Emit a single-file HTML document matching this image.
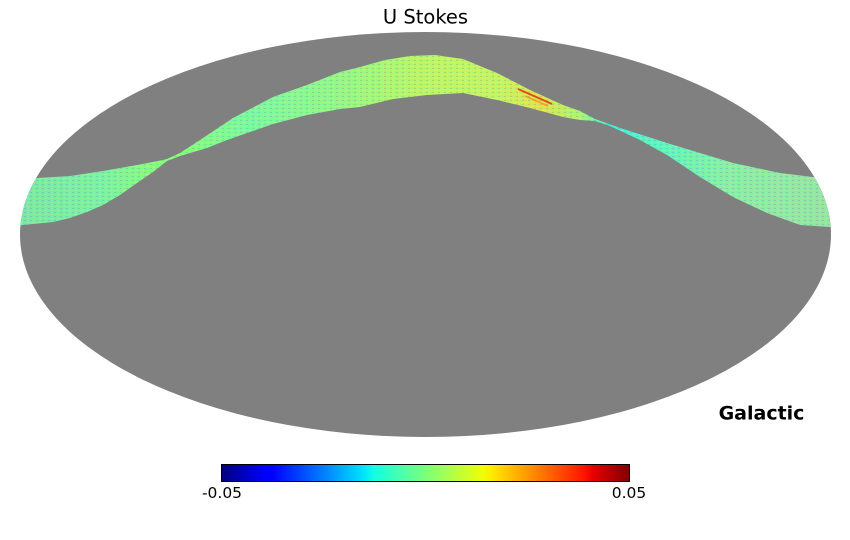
<!DOCTYPE html>
<html>
<head>
<meta charset="utf-8">
<style>
  html,body{margin:0;padding:0;background:#ffffff;}
  body{width:850px;height:540px;overflow:hidden;}
  svg{display:block;}
  text{font-family:"DejaVu Sans","Liberation Sans",sans-serif;}
</style>
</head>
<body>
<svg width="850" height="540" viewBox="0 0 850 540" xmlns="http://www.w3.org/2000/svg">
  <defs>
    <clipPath id="ell">
      <ellipse cx="425.5" cy="234.5" rx="405.5" ry="202.5"/>
    </clipPath>
    <linearGradient id="band" gradientUnits="userSpaceOnUse" x1="20" y1="0" x2="831" y2="0">
      <stop offset="0" stop-color="#78e8aa"/>
      <stop offset="0.099" stop-color="#76f4a6"/>
      <stop offset="0.181" stop-color="#88ff76"/>
      <stop offset="0.284" stop-color="#76fca2"/>
      <stop offset="0.407" stop-color="#96f884"/>
      <stop offset="0.493" stop-color="#bcf666"/>
      <stop offset="0.592" stop-color="#c6f462"/>
      <stop offset="0.641" stop-color="#e2e24e"/>
      <stop offset="0.690" stop-color="#aaf672"/>
      <stop offset="0.728" stop-color="#3af4e0"/>
      <stop offset="0.789" stop-color="#58f6c6"/>
      <stop offset="0.876" stop-color="#88f0a8"/>
      <stop offset="1" stop-color="#96e4a6"/>
    </linearGradient>
    <pattern id="tex" width="6" height="4" patternUnits="userSpaceOnUse">
      <rect x="0" y="0" width="2" height="1" fill="#808080"/>
      <rect x="3" y="2" width="2" height="1" fill="#ffff30"/>
      <rect x="4" y="0" width="1" height="1" fill="#30ffe0"/>
      <rect x="1" y="3" width="1" height="1" fill="#30ffe0"/>
    </pattern>
    <linearGradient id="jet" x1="0" y1="0" x2="1" y2="0">
      <stop offset="0" stop-color="#000080"/>
      <stop offset="0.11" stop-color="#0000ff"/>
      <stop offset="0.125" stop-color="#0000ff"/>
      <stop offset="0.34" stop-color="#00dbff"/>
      <stop offset="0.35" stop-color="#00e6f7"/>
      <stop offset="0.375" stop-color="#14ffe2"/>
      <stop offset="0.64" stop-color="#efff08"/>
      <stop offset="0.65" stop-color="#f7f500"/>
      <stop offset="0.66" stop-color="#ffec00"/>
      <stop offset="0.89" stop-color="#ff1300"/>
      <stop offset="0.91" stop-color="#e80000"/>
      <stop offset="1" stop-color="#800000"/>
    </linearGradient>
  </defs>

  <!-- title -->
  <text x="425.5" y="23.3" font-size="19.5" text-anchor="middle" fill="#000">U Stokes</text>

  <!-- map -->
  <ellipse cx="425.5" cy="234.5" rx="405.5" ry="202.5" fill="#808080"/>
  <g clip-path="url(#ell)">
    <path d="M10,180 L37,178 L70,176 L103,171 L137,165 L163,160 L167,159 L180,153 L200,140 L233,118 L273,97 L307,85 L340,72 L360,67 L385,60 L410,56 L435,55 L463,59 L497,73 L530,90 L563,105 L580,111 L595,119 L620,128 L667,143 L733,163 L780,173 L813,177 L840,178
      L840,228 L830,227 L800,225 L767,213 L733,197 L700,177 L667,155 L640,140 L610,126 L595,121 L580,120 L563,117 L530,108 L497,100 L463,93 L427,95 L393,99 L360,107 L340,109 L307,115 L273,124 L250,132 L227,140 L207,148 L180,156 L167,161 L153,172 L137,183 L120,195 L103,205 L87,212 L70,218 L53,222 L23,225 L10,227 Z" fill="url(#band)"/>
    <path d="M10,180 L37,178 L70,176 L103,171 L137,165 L163,160 L167,159 L180,153 L200,140 L233,118 L273,97 L307,85 L340,72 L360,67 L385,60 L410,56 L435,55 L463,59 L497,73 L530,90 L563,105 L580,111 L595,119 L620,128 L667,143 L733,163 L780,173 L813,177 L840,178
      L840,228 L830,227 L800,225 L767,213 L733,197 L700,177 L667,155 L640,140 L610,126 L595,121 L580,120 L563,117 L530,108 L497,100 L463,93 L427,95 L393,99 L360,107 L340,109 L307,115 L273,124 L250,132 L227,140 L207,148 L180,156 L167,161 L153,172 L137,183 L120,195 L103,205 L87,212 L70,218 L53,222 L23,225 L10,227 Z" fill="url(#tex)" opacity="0.3"/>
    <!-- red streak -->
    <path d="M518,89 L534,96 L552,104" stroke="#e83010" stroke-width="2" fill="none" opacity="0.85"/>
    <path d="M525,96 L548,106" stroke="#ff8010" stroke-width="1.5" fill="none" opacity="0.7"/>
  </g>

  <!-- Galactic label -->
  <text x="761.5" y="419.5" font-size="19" font-weight="bold" text-anchor="middle" fill="#000">Galactic</text>

  <!-- colorbar -->
  <rect x="221.5" y="464.5" width="408" height="17" fill="url(#jet)" stroke="#000" stroke-width="1"/>
  <text x="222" y="498" font-size="15.5" text-anchor="middle" fill="#000">-0.05</text>
  <text x="629" y="498" font-size="15.5" text-anchor="middle" fill="#000">0.05</text>
</svg>
</body>
</html>
